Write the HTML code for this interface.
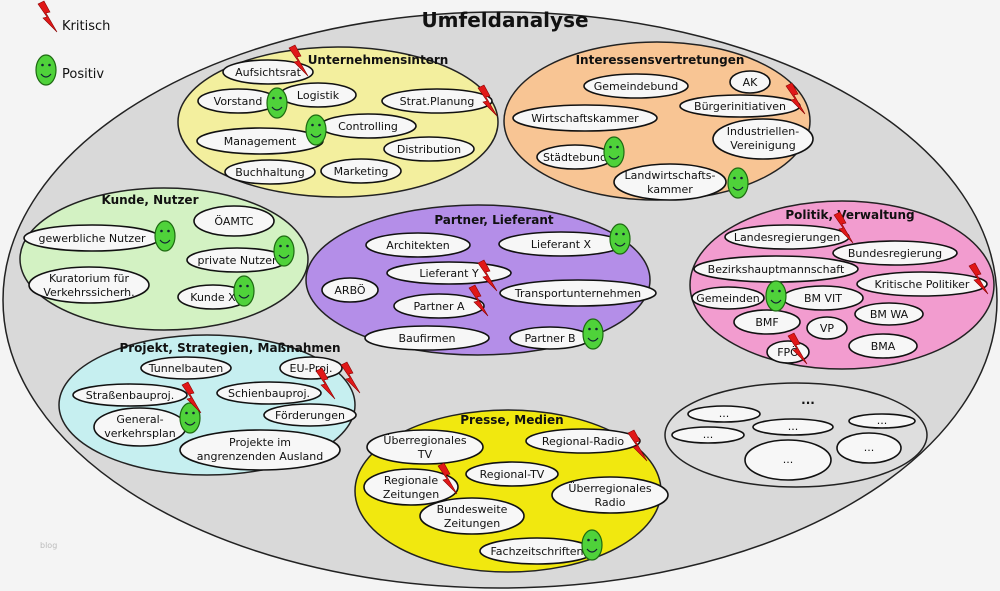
<!DOCTYPE html>
<html><head><meta charset="utf-8"><style>
html,body{margin:0;padding:0;background:#f4f4f4;}
svg{display:block;font-family:"DejaVu Sans","Liberation Sans",sans-serif;}
.n{fill:#f7f7f7;stroke:#111;stroke-width:1.6}
.t{font-size:11px;fill:#111;text-anchor:middle}
.g{font-size:12px;font-weight:bold;fill:#111;text-anchor:middle}
.grp{stroke:#222;stroke-width:1.5}
</style></head><body>
<svg width="1000" height="591" viewBox="0 0 1000 591" xmlns="http://www.w3.org/2000/svg">
<defs>
<g id="L"><polygon points="-9,-14 -3,-17 3,-6 -1,-5 10,14 -4,0 0,-1" fill="#e01818" stroke="#8a0000" stroke-width="0.6"/></g>
<g id="S"><ellipse cx="0" cy="0" rx="10" ry="15" fill="#4fd23a" stroke="#1e6a12" stroke-width="1.2"/><circle cx="-3.5" cy="-5" r="1.3" fill="#123"/><circle cx="3.5" cy="-5" r="1.3" fill="#123"/><path d="M-5,4 Q0,10 5,4" fill="none" stroke="#123" stroke-width="1.2"/></g>
</defs>
<rect width="1000" height="591" fill="#f4f4f4"/>
<ellipse cx="500" cy="300" rx="497" ry="288" fill="#d9d9d9" stroke="#222" stroke-width="1.5"/>
<text x="505" y="27" font-size="20" font-weight="bold" text-anchor="middle" fill="#111">Umfeldanalyse</text>
<!-- legend -->
<use href="#L" x="47" y="18"/><text x="62" y="30" font-size="13" fill="#111">Kritisch</text>
<use href="#S" x="46" y="70"/><text x="62" y="78" font-size="13" fill="#111">Positiv</text>

<!-- groups -->
<ellipse class="grp" cx="338" cy="122" rx="160" ry="75" fill="#f3ef9e"/>
<ellipse class="grp" cx="657" cy="121" rx="153" ry="79" fill="#f8c594"/>
<ellipse class="grp" cx="164" cy="259" rx="144" ry="71" fill="#d3f2c3"/>
<ellipse class="grp" cx="478" cy="280" rx="172" ry="75" fill="#b48ee8"/>
<ellipse class="grp" cx="842" cy="285" rx="152" ry="84" fill="#f29ccf"/>
<ellipse class="grp" cx="207" cy="405" rx="148" ry="70" fill="#c6eff0"/>
<ellipse class="grp" cx="508" cy="491" rx="153" ry="81" fill="#f1e80f"/>
<ellipse class="grp" cx="796" cy="435" rx="131" ry="52" fill="#dedede"/>

<text class="g" x="378" y="64">Unternehmensintern</text>
<text class="g" x="660" y="64">Interessensvertretungen</text>
<text class="g" x="150" y="204">Kunde, Nutzer</text>
<text class="g" x="494" y="224">Partner, Lieferant</text>
<text class="g" x="850" y="219">Politik, Verwaltung</text>
<text class="g" x="230" y="352">Projekt, Strategien, Maßnahmen</text>
<text class="g" x="512" y="424">Presse, Medien</text>
<text class="g" x="808" y="404">...</text>

<!-- Unternehmensintern -->
<ellipse class="n" cx="268" cy="72" rx="45" ry="12"/><text class="t" x="268" y="76">Aufsichtsrat</text>
<ellipse class="n" cx="238" cy="101" rx="40" ry="12"/><text class="t" x="238" y="105">Vorstand</text>
<ellipse class="n" cx="318" cy="95" rx="38" ry="12"/><text class="t" x="318" y="99">Logistik</text>
<ellipse class="n" cx="437" cy="101" rx="55" ry="12"/><text class="t" x="437" y="105">Strat.Planung</text>
<ellipse class="n" cx="368" cy="126" rx="48" ry="12"/><text class="t" x="368" y="130">Controlling</text>
<ellipse class="n" cx="260" cy="141" rx="63" ry="13"/><text class="t" x="260" y="145">Management</text>
<ellipse class="n" cx="429" cy="149" rx="45" ry="12"/><text class="t" x="429" y="153">Distribution</text>
<ellipse class="n" cx="270" cy="172" rx="45" ry="12"/><text class="t" x="270" y="176">Buchhaltung</text>
<ellipse class="n" cx="361" cy="171" rx="40" ry="12"/><text class="t" x="361" y="175">Marketing</text>
<use href="#S" x="277" y="103"/><use href="#S" x="316" y="130"/>
<use href="#L" x="298" y="62"/><use href="#L" x="487" y="102"/>

<!-- Interessen -->
<ellipse class="n" cx="636" cy="86" rx="52" ry="12"/><text class="t" x="636" y="90">Gemeindebund</text>
<ellipse class="n" cx="750" cy="82" rx="20" ry="11"/><text class="t" x="750" y="86">AK</text>
<ellipse class="n" cx="740" cy="106" rx="60" ry="11"/><text class="t" x="740" y="110">Bürgerinitiativen</text>
<ellipse class="n" cx="585" cy="118" rx="72" ry="13"/><text class="t" x="585" y="122">Wirtschaftskammer</text>
<ellipse class="n" cx="763" cy="139" rx="50" ry="20"/><text class="t" x="763" y="135">Industriellen-</text><text class="t" x="763" y="149">Vereinigung</text>
<ellipse class="n" cx="575" cy="157" rx="38" ry="12"/><text class="t" x="575" y="161">Städtebund</text>
<ellipse class="n" cx="670" cy="182" rx="56" ry="18"/><text class="t" x="670" y="179">Landwirtschafts-</text><text class="t" x="670" y="193">kammer</text>
<use href="#S" x="614" y="152"/><use href="#S" x="738" y="183"/>
<use href="#L" x="795" y="100"/>

<!-- Kunde -->
<ellipse class="n" cx="234" cy="221" rx="40" ry="15"/><text class="t" x="234" y="225">ÖAMTC</text>
<ellipse class="n" cx="92" cy="238" rx="68" ry="13"/><text class="t" x="92" y="242">gewerbliche Nutzer</text>
<ellipse class="n" cx="237" cy="260" rx="50" ry="12"/><text class="t" x="237" y="264">private Nutzer</text>
<ellipse class="n" cx="89" cy="285" rx="60" ry="18"/><text class="t" x="89" y="282">Kuratorium für</text><text class="t" x="89" y="296">Verkehrssicherh.</text>
<ellipse class="n" cx="213" cy="297" rx="35" ry="12"/><text class="t" x="213" y="301">Kunde X</text>
<use href="#S" x="165" y="236"/><use href="#S" x="284" y="251"/><use href="#S" x="244" y="291"/>

<!-- Partner -->
<ellipse class="n" cx="418" cy="245" rx="52" ry="12"/><text class="t" x="418" y="249">Architekten</text>
<ellipse class="n" cx="561" cy="244" rx="62" ry="12"/><text class="t" x="561" y="248">Lieferant X</text>
<ellipse class="n" cx="449" cy="273" rx="62" ry="11"/><text class="t" x="449" y="277">Lieferant Y</text>
<ellipse class="n" cx="350" cy="290" rx="28" ry="12"/><text class="t" x="350" y="294">ARBÖ</text>
<ellipse class="n" cx="578" cy="293" rx="78" ry="13"/><text class="t" x="578" y="297">Transportunternehmen</text>
<ellipse class="n" cx="439" cy="306" rx="45" ry="12"/><text class="t" x="439" y="310">Partner A</text>
<ellipse class="n" cx="427" cy="338" rx="62" ry="12"/><text class="t" x="427" y="342">Baufirmen</text>
<ellipse class="n" cx="550" cy="338" rx="40" ry="11"/><text class="t" x="550" y="342">Partner B</text>
<use href="#S" x="620" y="239"/><use href="#S" x="593" y="334"/>
<use href="#L" x="487" y="277"/><use href="#L" x="478" y="302"/>

<!-- Politik -->
<ellipse class="n" cx="787" cy="237" rx="62" ry="12"/><text class="t" x="787" y="241">Landesregierungen</text>
<ellipse class="n" cx="895" cy="253" rx="62" ry="12"/><text class="t" x="895" y="257">Bundesregierung</text>
<ellipse class="n" cx="776" cy="269" rx="82" ry="13"/><text class="t" x="776" y="273">Bezirkshauptmannschaft</text>
<ellipse class="n" cx="922" cy="284" rx="65" ry="12"/><text class="t" x="922" y="288">Kritische Politiker</text>
<ellipse class="n" cx="728" cy="298" rx="36" ry="11"/><text class="t" x="728" y="302">Gemeinden</text>
<ellipse class="n" cx="823" cy="298" rx="40" ry="12"/><text class="t" x="823" y="302">BM VIT</text>
<ellipse class="n" cx="767" cy="322" rx="33" ry="12"/><text class="t" x="767" y="326">BMF</text>
<ellipse class="n" cx="889" cy="314" rx="34" ry="11"/><text class="t" x="889" y="318">BM WA</text>
<ellipse class="n" cx="827" cy="328" rx="20" ry="11"/><text class="t" x="827" y="332">VP</text>
<ellipse class="n" cx="883" cy="346" rx="34" ry="12"/><text class="t" x="883" y="350">BMA</text>
<ellipse class="n" cx="788" cy="352" rx="21" ry="11"/><text class="t" x="788" y="356">FPÖ</text>
<use href="#S" x="776" y="296"/>
<use href="#L" x="843" y="229"/><use href="#L" x="978" y="280"/><use href="#L" x="797" y="350"/>

<!-- Projekt -->
<ellipse class="n" cx="186" cy="368" rx="45" ry="11"/><text class="t" x="186" y="372">Tunnelbauten</text>
<ellipse class="n" cx="311" cy="368" rx="31" ry="11"/><text class="t" x="311" y="372">EU-Proj.</text>
<ellipse class="n" cx="130" cy="395" rx="57" ry="11"/><text class="t" x="130" y="399">Straßenbauproj.</text>
<ellipse class="n" cx="269" cy="393" rx="52" ry="11"/><text class="t" x="269" y="397">Schienbauproj.</text>
<ellipse class="n" cx="310" cy="415" rx="46" ry="11"/><text class="t" x="310" y="419">Förderungen</text>
<ellipse class="n" cx="140" cy="427" rx="46" ry="19"/><text class="t" x="140" y="423">General-</text><text class="t" x="140" y="437">verkehrsplan</text>
<ellipse class="n" cx="260" cy="450" rx="80" ry="20"/><text class="t" x="260" y="446">Projekte im</text><text class="t" x="260" y="460">angrenzenden Ausland</text>
<use href="#S" x="190" y="418"/>
<use href="#L" x="191" y="399"/><use href="#L" x="325" y="385"/><use href="#L" x="350" y="379"/>

<!-- Presse -->
<ellipse class="n" cx="425" cy="447" rx="58" ry="17"/><text class="t" x="425" y="444">Überregionales</text><text class="t" x="425" y="458">TV</text>
<ellipse class="n" cx="583" cy="441" rx="57" ry="12"/><text class="t" x="583" y="445">Regional-Radio</text>
<ellipse class="n" cx="512" cy="474" rx="46" ry="12"/><text class="t" x="512" y="478">Regional-TV</text>
<ellipse class="n" cx="411" cy="487" rx="47" ry="18"/><text class="t" x="411" y="484">Regionale</text><text class="t" x="411" y="498">Zeitungen</text>
<ellipse class="n" cx="610" cy="495" rx="58" ry="18"/><text class="t" x="610" y="492">Überregionales</text><text class="t" x="610" y="506">Radio</text>
<ellipse class="n" cx="472" cy="516" rx="52" ry="18"/><text class="t" x="472" y="513">Bundesweite</text><text class="t" x="472" y="527">Zeitungen</text>
<ellipse class="n" cx="537" cy="551" rx="57" ry="13"/><text class="t" x="537" y="555">Fachzeitschriften</text>
<use href="#S" x="592" y="545"/>
<use href="#L" x="637" y="447"/><use href="#L" x="447" y="480"/>

<!-- ... group -->
<ellipse class="n" cx="724" cy="414" rx="36" ry="8"/><text class="t" x="724" y="417" font-size="6">...</text>
<ellipse class="n" cx="708" cy="435" rx="36" ry="8"/><text class="t" x="708" y="438" font-size="6">...</text>
<ellipse class="n" cx="793" cy="427" rx="40" ry="8"/><text class="t" x="793" y="430" font-size="6">...</text>
<ellipse class="n" cx="882" cy="421" rx="33" ry="7"/><text class="t" x="882" y="424" font-size="6">...</text>
<ellipse class="n" cx="869" cy="448" rx="32" ry="15"/><text class="t" x="869" y="451" font-size="6">...</text>
<ellipse class="n" cx="788" cy="460" rx="43" ry="20"/><text class="t" x="788" y="463" font-size="6">...</text>

<text x="40" y="548" font-size="8" fill="#bbb">blog</text>
</svg>
</body></html>
